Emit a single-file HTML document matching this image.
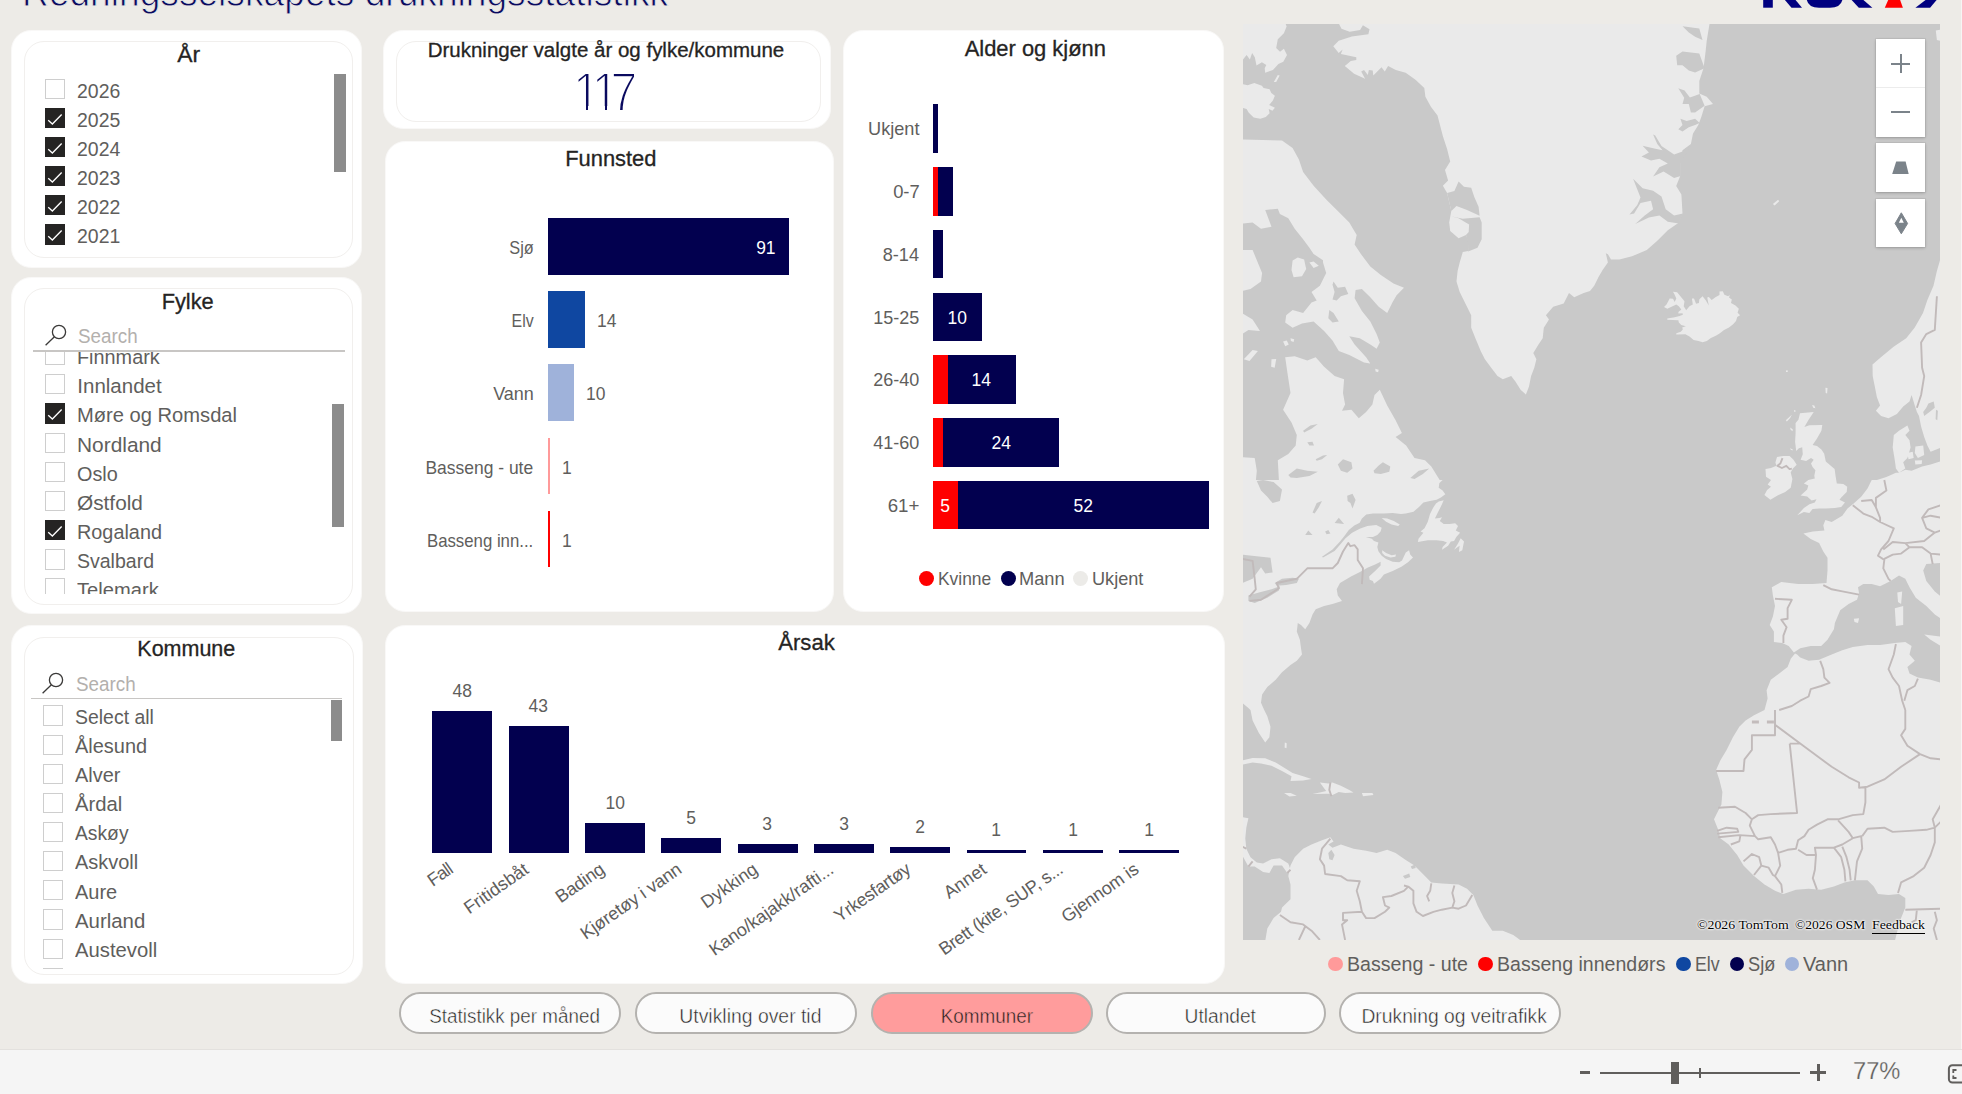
<!DOCTYPE html>
<html lang="no"><head><meta charset="utf-8"><title>Redningsselskapets drukningsstatistikk</title>
<style>
html,body{margin:0;padding:0;background:#edebe7}
body{width:1962px;height:1094px;background:#edebe7;position:relative;overflow:hidden;font-family:"Liberation Sans",sans-serif;}
body div,body span,body svg{position:absolute;}
span{white-space:nowrap;line-height:1em;display:block}
.din{-webkit-text-stroke:0.3px #252423}
</style></head><body>
<span style="left:22.00px;top:-48px;font-size:41px;line-height:80px;color:#0a0a5f;transform:scaleX(0.9057);transform-origin:0 0;-webkit-text-stroke:0.9px #edebe7;">Redningsselskapets drukningsstatistikk</span>
<svg style="left:1750px;top:0" width="200" height="10" viewBox="1750 0 200 10"><g fill="#000080"><rect x="1763.2" y="-2" width="9.6" height="9.7"/><path d="M1783.2 -2 L1793.9 -2 L1802 7.7 L1791.5 7.7 Z"/><path d="M1806.8 -2 L1806.8 0 Q1808.5 7.7 1819 7.7 L1830 7.7 Q1840.5 7.7 1842.4 0 L1842.4 -2 Z"/><path d="M1849.8 -2 L1861.1 -2 L1872.4 7.7 L1858.8 7.7 Z"/><path d="M1928.2 -2 L1938.3 -2 L1930.1 7.7 L1915.4 7.7 Z"/></g><path d="M1889.1 -2 L1899.4 -2 L1902.9 7.7 L1884.8 7.7 Z" fill="#ff0000"/></svg>
<div style="left:11.00px;top:30.00px;width:351.00px;height:237.50px;background:#fff;border-radius:20px;border:1.5px solid #f9f8f7;box-sizing:border-box;"></div>
<div style="left:23.50px;top:41.00px;width:329.50px;height:217.00px;background:#fff;border-radius:20px;border:1px solid #f1efed;box-sizing:border-box;"></div>
<div style="left:11.00px;top:276.50px;width:351.00px;height:337.50px;background:#fff;border-radius:20px;border:1.5px solid #f9f8f7;box-sizing:border-box;"></div>
<div style="left:24.00px;top:288.00px;width:329.00px;height:316.50px;background:#fff;border-radius:20px;border:1px solid #f1efed;box-sizing:border-box;"></div>
<div style="left:11.00px;top:624.50px;width:351.50px;height:359.50px;background:#fff;border-radius:20px;border:1.5px solid #f9f8f7;box-sizing:border-box;"></div>
<div style="left:24.00px;top:636.50px;width:329.50px;height:338.00px;background:#fff;border-radius:20px;border:1px solid #f1efed;box-sizing:border-box;"></div>
<div style="left:383.00px;top:30.00px;width:448.00px;height:99.00px;background:#fff;border-radius:20px;border:1.5px solid #f9f8f7;box-sizing:border-box;"></div>
<div style="left:396.00px;top:40.50px;width:425.00px;height:81.00px;background:#fff;border-radius:20px;border:1px solid #f1efed;box-sizing:border-box;"></div>
<div style="left:385.00px;top:140.50px;width:448.50px;height:471.00px;background:#fff;border-radius:20px;border:1.5px solid #f9f8f7;box-sizing:border-box;"></div>
<div style="left:843.00px;top:30.00px;width:381.00px;height:582.00px;background:#fff;border-radius:20px;border:1.5px solid #f9f8f7;box-sizing:border-box;"></div>
<div style="left:385.00px;top:624.50px;width:839.50px;height:359.00px;background:#fff;border-radius:20px;border:1.5px solid #f9f8f7;box-sizing:border-box;"></div>
<span class="din" style="left:178.45px;top:35px;font-size:21.5px;line-height:40px;color:#252423;transform:scaleX(1.0651);transform-origin:50% 0;">År</span>
<div style="left:44.80px;top:79.10px;width:20.20px;height:20.20px;background:#fff;border:1.5px solid #cecece;box-sizing:border-box;"></div>
<span style="left:77.00px;top:71px;font-size:20.5px;line-height:40px;color:#605e5c;transform:scaleX(0.9495);transform-origin:0 0;">2026</span>
<div style="left:44.80px;top:108.15px;width:20.20px;height:20.20px;background:#252423;"><svg width="20.2" height="20.2" viewBox="0 0 20 20" style="position:absolute;left:0;top:0"><path d="M3.2 12.1 L7.3 15.9 L16.5 6.4" fill="none" stroke="#fff" stroke-width="1.3"/></svg></div>
<span style="left:77.00px;top:100px;font-size:20.5px;line-height:40px;color:#605e5c;transform:scaleX(0.9495);transform-origin:0 0;">2025</span>
<div style="left:44.80px;top:137.20px;width:20.20px;height:20.20px;background:#252423;"><svg width="20.2" height="20.2" viewBox="0 0 20 20" style="position:absolute;left:0;top:0"><path d="M3.2 12.1 L7.3 15.9 L16.5 6.4" fill="none" stroke="#fff" stroke-width="1.3"/></svg></div>
<span style="left:77.00px;top:129px;font-size:20.5px;line-height:40px;color:#605e5c;transform:scaleX(0.9495);transform-origin:0 0;">2024</span>
<div style="left:44.80px;top:166.25px;width:20.20px;height:20.20px;background:#252423;"><svg width="20.2" height="20.2" viewBox="0 0 20 20" style="position:absolute;left:0;top:0"><path d="M3.2 12.1 L7.3 15.9 L16.5 6.4" fill="none" stroke="#fff" stroke-width="1.3"/></svg></div>
<span style="left:77.00px;top:158px;font-size:20.5px;line-height:40px;color:#605e5c;transform:scaleX(0.9495);transform-origin:0 0;">2023</span>
<div style="left:44.80px;top:195.30px;width:20.20px;height:20.20px;background:#252423;"><svg width="20.2" height="20.2" viewBox="0 0 20 20" style="position:absolute;left:0;top:0"><path d="M3.2 12.1 L7.3 15.9 L16.5 6.4" fill="none" stroke="#fff" stroke-width="1.3"/></svg></div>
<span style="left:77.00px;top:187px;font-size:20.5px;line-height:40px;color:#605e5c;transform:scaleX(0.9495);transform-origin:0 0;">2022</span>
<div style="left:44.80px;top:224.35px;width:20.20px;height:20.20px;background:#252423;"><svg width="20.2" height="20.2" viewBox="0 0 20 20" style="position:absolute;left:0;top:0"><path d="M3.2 12.1 L7.3 15.9 L16.5 6.4" fill="none" stroke="#fff" stroke-width="1.3"/></svg></div>
<span style="left:77.00px;top:216px;font-size:20.5px;line-height:40px;color:#605e5c;transform:scaleX(0.9495);transform-origin:0 0;">2021</span>
<div style="left:334.00px;top:74.00px;width:12.00px;height:97.50px;background:#8c8c8c;"></div>
<span class="din" style="left:162.42px;top:282px;font-size:21.5px;line-height:40px;color:#252423;transform:scaleX(1.0143);transform-origin:50% 0;">Fylke</span>
<svg style="left:42.50px;top:322.10px" width="28" height="28" viewBox="0 0 28 28"><circle cx="16" cy="10" r="6.6" fill="none" stroke="#3b3a39" stroke-width="1.3"/><path d="M11.4 14.8 L2.6 23.2" stroke="#3b3a39" stroke-width="1.3" fill="none"/></svg>
<span style="left:77.90px;top:316px;font-size:20.5px;line-height:40px;color:#b3b0ad;transform:scaleX(0.9176);transform-origin:0 0;">Search</span>
<div style="left:33.00px;top:349.90px;width:311.70px;height:1.80px;background:#c8c6c4;"></div>
<div style="left:24px;top:351.6px;width:329px;height:242.2px;overflow:hidden">
<div style="left:20.80px;top:-6.47px;width:20.20px;height:20.20px;background:#fff;border:1.5px solid #cecece;box-sizing:border-box;"></div>
<span style="left:53.30px;top:-15px;font-size:20.5px;line-height:40px;color:#605e5c;transform:scaleX(0.9680);transform-origin:0 0;">Finnmark</span>
<div style="left:20.80px;top:22.70px;width:20.20px;height:20.20px;background:#fff;border:1.5px solid #cecece;box-sizing:border-box;"></div>
<span style="left:53.30px;top:14px;font-size:20.5px;line-height:40px;color:#605e5c;">Innlandet</span>
<div style="left:20.80px;top:51.87px;width:20.20px;height:20.20px;background:#252423;"><svg width="20.2" height="20.2" viewBox="0 0 20 20" style="position:absolute;left:0;top:0"><path d="M3.2 12.1 L7.3 15.9 L16.5 6.4" fill="none" stroke="#fff" stroke-width="1.3"/></svg></div>
<span style="left:53.30px;top:43px;font-size:20.5px;line-height:40px;color:#605e5c;transform:scaleX(0.9823);transform-origin:0 0;">Møre og Romsdal</span>
<div style="left:20.80px;top:81.04px;width:20.20px;height:20.20px;background:#fff;border:1.5px solid #cecece;box-sizing:border-box;"></div>
<span style="left:53.30px;top:73px;font-size:20.5px;line-height:40px;color:#605e5c;transform:scaleX(1.0185);transform-origin:0 0;">Nordland</span>
<div style="left:20.80px;top:110.21px;width:20.20px;height:20.20px;background:#fff;border:1.5px solid #cecece;box-sizing:border-box;"></div>
<span style="left:53.30px;top:102px;font-size:20.5px;line-height:40px;color:#605e5c;transform:scaleX(0.9663);transform-origin:0 0;">Oslo</span>
<div style="left:20.80px;top:139.38px;width:20.20px;height:20.20px;background:#fff;border:1.5px solid #cecece;box-sizing:border-box;"></div>
<span style="left:53.30px;top:131px;font-size:20.5px;line-height:40px;color:#605e5c;transform:scaleX(1.0147);transform-origin:0 0;">Østfold</span>
<div style="left:20.80px;top:168.55px;width:20.20px;height:20.20px;background:#252423;"><svg width="20.2" height="20.2" viewBox="0 0 20 20" style="position:absolute;left:0;top:0"><path d="M3.2 12.1 L7.3 15.9 L16.5 6.4" fill="none" stroke="#fff" stroke-width="1.3"/></svg></div>
<span style="left:53.30px;top:160px;font-size:20.5px;line-height:40px;color:#605e5c;transform:scaleX(0.9680);transform-origin:0 0;">Rogaland</span>
<div style="left:20.80px;top:197.72px;width:20.20px;height:20.20px;background:#fff;border:1.5px solid #cecece;box-sizing:border-box;"></div>
<span style="left:53.30px;top:189px;font-size:20.5px;line-height:40px;color:#605e5c;transform:scaleX(0.9518);transform-origin:0 0;">Svalbard</span>
<div style="left:20.80px;top:226.89px;width:20.20px;height:20.20px;background:#fff;border:1.5px solid #cecece;box-sizing:border-box;"></div>
<span style="left:53.30px;top:218px;font-size:20.5px;line-height:40px;color:#605e5c;transform:scaleX(0.9825);transform-origin:0 0;">Telemark</span>
</div>
<div style="left:332.30px;top:404.20px;width:12.20px;height:123.30px;background:#8c8c8c;"></div>
<span class="din" style="left:137.31px;top:629px;font-size:21.5px;line-height:40px;color:#252423;">Kommune</span>
<svg style="left:40.20px;top:670.40px" width="28" height="28" viewBox="0 0 28 28"><circle cx="16" cy="10" r="6.6" fill="none" stroke="#3b3a39" stroke-width="1.3"/><path d="M11.4 14.8 L2.6 23.2" stroke="#3b3a39" stroke-width="1.3" fill="none"/></svg>
<span style="left:75.80px;top:664px;font-size:20.5px;line-height:40px;color:#b3b0ad;transform:scaleX(0.9176);transform-origin:0 0;">Search</span>
<div style="left:31.00px;top:697.50px;width:311.30px;height:1.80px;background:#c8c6c4;"></div>
<div style="left:24px;top:699.3px;width:329px;height:270px;overflow:hidden">
<div style="left:19.20px;top:6.20px;width:20.20px;height:20.20px;background:#fff;border:1.5px solid #cecece;box-sizing:border-box;"></div>
<span style="left:50.80px;top:-2px;font-size:20.5px;line-height:40px;color:#605e5c;transform:scaleX(0.9487);transform-origin:0 0;">Select all</span>
<div style="left:19.20px;top:35.33px;width:20.20px;height:20.20px;background:#fff;border:1.5px solid #cecece;box-sizing:border-box;"></div>
<span style="left:50.80px;top:27px;font-size:20.5px;line-height:40px;color:#605e5c;transform:scaleX(0.9737);transform-origin:0 0;">Ålesund</span>
<div style="left:19.20px;top:64.46px;width:20.20px;height:20.20px;background:#fff;border:1.5px solid #cecece;box-sizing:border-box;"></div>
<span style="left:50.80px;top:56px;font-size:20.5px;line-height:40px;color:#605e5c;transform:scaleX(0.9722);transform-origin:0 0;">Alver</span>
<div style="left:19.20px;top:93.59px;width:20.20px;height:20.20px;background:#fff;border:1.5px solid #cecece;box-sizing:border-box;"></div>
<span style="left:50.80px;top:85px;font-size:20.5px;line-height:40px;color:#605e5c;transform:scaleX(0.9890);transform-origin:0 0;">Årdal</span>
<div style="left:19.20px;top:122.72px;width:20.20px;height:20.20px;background:#fff;border:1.5px solid #cecece;box-sizing:border-box;"></div>
<span style="left:50.80px;top:114px;font-size:20.5px;line-height:40px;color:#605e5c;transform:scaleX(0.9396);transform-origin:0 0;">Askøy</span>
<div style="left:19.20px;top:151.85px;width:20.20px;height:20.20px;background:#fff;border:1.5px solid #cecece;box-sizing:border-box;"></div>
<span style="left:50.80px;top:143px;font-size:20.5px;line-height:40px;color:#605e5c;transform:scaleX(0.9739);transform-origin:0 0;">Askvoll</span>
<div style="left:19.20px;top:180.98px;width:20.20px;height:20.20px;background:#fff;border:1.5px solid #cecece;box-sizing:border-box;"></div>
<span style="left:50.80px;top:173px;font-size:20.5px;line-height:40px;color:#605e5c;transform:scaleX(0.9756);transform-origin:0 0;">Aure</span>
<div style="left:19.20px;top:210.11px;width:20.20px;height:20.20px;background:#fff;border:1.5px solid #cecece;box-sizing:border-box;"></div>
<span style="left:50.80px;top:202px;font-size:20.5px;line-height:40px;color:#605e5c;transform:scaleX(0.9947);transform-origin:0 0;">Aurland</span>
<div style="left:19.20px;top:239.24px;width:20.20px;height:20.20px;background:#fff;border:1.5px solid #cecece;box-sizing:border-box;"></div>
<span style="left:50.80px;top:231px;font-size:20.5px;line-height:40px;color:#605e5c;transform:scaleX(0.9874);transform-origin:0 0;">Austevoll</span>
<div style="left:19.20px;top:268.37px;width:20.20px;height:20.20px;background:#fff;border:1.5px solid #cecece;box-sizing:border-box;"></div>
</div>
<div style="left:330.50px;top:699.80px;width:11.80px;height:41.00px;background:#8c8c8c;"></div>
<span class="din" style="left:432.33px;top:30px;font-size:20px;line-height:40px;color:#252423;transform:scaleX(1.0249);transform-origin:50% 0;">Drukninger valgte år og fylke/kommune</span>
<span style="left:572.90px;top:52px;font-size:56px;line-height:80px;color:#0a0a5f;letter-spacing:-9.28px;font-kerning:none;-webkit-text-stroke:2px #fff;transform:scaleX(0.86);transform-origin:0 0;">117</span>
<div style="left:575.90px;top:106.40px;width:9.95px;height:5.60px;background:#fff;"></div>
<div style="left:588.45px;top:106.40px;width:9.25px;height:5.60px;background:#fff;"></div>
<div style="left:594.70px;top:106.40px;width:9.95px;height:5.60px;background:#fff;"></div>
<div style="left:607.25px;top:106.40px;width:9.25px;height:5.60px;background:#fff;"></div>
<span class="din" style="left:565.78px;top:139px;font-size:21.5px;line-height:40px;color:#252423;transform:scaleX(1.0174);transform-origin:50% 0;">Funnsted</span>
<div style="left:547.80px;top:218.30px;width:240.97px;height:56.40px;background:#02004f;"></div>
<span style="left:505.65px;top:228px;font-size:18.5px;line-height:40px;color:#605e5c;transform:scaleX(0.8818);transform-origin:100% 0;">Sjø</span>
<span style="left:755.42px;top:228px;font-size:18.5px;line-height:40px;color:#fff;transform:scaleX(0.9431);transform-origin:100% 0;">91</span>
<div style="left:547.80px;top:291.38px;width:37.07px;height:56.40px;background:#0f47a1;"></div>
<span style="left:507.70px;top:301px;font-size:18.5px;line-height:40px;color:#605e5c;transform:scaleX(0.8594);transform-origin:100% 0;">Elv</span>
<span style="left:596.87px;top:301px;font-size:18.5px;line-height:40px;color:#605e5c;transform:scaleX(0.9431);transform-origin:0 0;">14</span>
<div style="left:547.80px;top:364.46px;width:26.48px;height:56.40px;background:#9fb2da;"></div>
<span style="left:491.57px;top:374px;font-size:18.5px;line-height:40px;color:#605e5c;transform:scaleX(0.9728);transform-origin:100% 0;">Vann</span>
<span style="left:586.28px;top:374px;font-size:18.5px;line-height:40px;color:#605e5c;transform:scaleX(0.9431);transform-origin:0 0;">10</span>
<div style="left:547.80px;top:437.54px;width:2.65px;height:56.40px;background:#ff9a9a;"></div>
<span style="left:419.25px;top:448px;font-size:18.5px;line-height:40px;color:#605e5c;transform:scaleX(0.9433);transform-origin:100% 0;">Basseng - ute</span>
<span style="left:562.45px;top:448px;font-size:18.5px;line-height:40px;color:#605e5c;transform:scaleX(0.9431);transform-origin:0 0;">1</span>
<div style="left:547.80px;top:510.62px;width:2.65px;height:56.40px;background:#ff0000;"></div>
<span style="left:416.16px;top:521px;font-size:18.5px;line-height:40px;color:#605e5c;transform:scaleX(0.9065);transform-origin:100% 0;">Basseng inn...</span>
<span style="left:562.45px;top:521px;font-size:18.5px;line-height:40px;color:#605e5c;transform:scaleX(0.9431);transform-origin:0 0;">1</span>
<span class="din" style="left:965.59px;top:29px;font-size:21.5px;line-height:40px;color:#252423;transform:scaleX(1.0186);transform-origin:50% 0;">Alder og kjønn</span>
<div style="left:933.40px;top:104.20px;width:4.84px;height:48.60px;background:#02004f;"></div>
<span style="left:867.06px;top:109px;font-size:18.5px;line-height:40px;color:#605e5c;transform:scaleX(0.9792);transform-origin:100% 0;">Ukjent</span>
<div style="left:933.40px;top:166.97px;width:4.84px;height:48.60px;background:#ff0000;"></div>
<div style="left:938.24px;top:166.97px;width:14.51px;height:48.60px;background:#02004f;"></div>
<span style="left:892.76px;top:172px;font-size:18.5px;line-height:40px;color:#605e5c;transform:scaleX(0.9950);transform-origin:100% 0;">0-7</span>
<div style="left:933.40px;top:229.74px;width:9.67px;height:48.60px;background:#02004f;"></div>
<span style="left:882.47px;top:235px;font-size:18.5px;line-height:40px;color:#605e5c;transform:scaleX(0.9806);transform-origin:100% 0;">8-14</span>
<div style="left:933.40px;top:292.51px;width:48.36px;height:48.60px;background:#02004f;"></div>
<span style="left:872.18px;top:298px;font-size:18.5px;line-height:40px;color:#605e5c;transform:scaleX(0.9724);transform-origin:100% 0;">15-25</span>
<span style="left:947.29px;top:298px;font-size:18.5px;line-height:40px;color:#fff;transform:scaleX(0.9431);transform-origin:50% 0;">10</span>
<div style="left:933.40px;top:355.28px;width:14.51px;height:48.60px;background:#ff0000;"></div>
<div style="left:947.91px;top:355.28px;width:67.70px;height:48.60px;background:#02004f;"></div>
<span style="left:872.18px;top:360px;font-size:18.5px;line-height:40px;color:#605e5c;transform:scaleX(0.9724);transform-origin:100% 0;">26-40</span>
<span style="left:971.47px;top:360px;font-size:18.5px;line-height:40px;color:#fff;transform:scaleX(0.9431);transform-origin:50% 0;">14</span>
<div style="left:933.40px;top:418.05px;width:9.67px;height:48.60px;background:#ff0000;"></div>
<div style="left:943.07px;top:418.05px;width:116.06px;height:48.60px;background:#02004f;"></div>
<span style="left:872.18px;top:423px;font-size:18.5px;line-height:40px;color:#605e5c;transform:scaleX(0.9724);transform-origin:100% 0;">41-60</span>
<span style="left:990.82px;top:423px;font-size:18.5px;line-height:40px;color:#fff;transform:scaleX(0.9431);transform-origin:50% 0;">24</span>
<div style="left:933.40px;top:480.82px;width:24.18px;height:48.60px;background:#ff0000;"></div>
<div style="left:957.58px;top:480.82px;width:251.47px;height:48.60px;background:#02004f;"></div>
<span style="left:888.12px;top:486px;font-size:18.5px;line-height:40px;color:#605e5c;transform:scaleX(1.0108);transform-origin:100% 0;">61+</span>
<span style="left:1073.03px;top:486px;font-size:18.5px;line-height:40px;color:#fff;transform:scaleX(0.9431);transform-origin:50% 0;">52</span>
<span style="left:940.35px;top:486px;font-size:18.5px;line-height:40px;color:#fff;transform:scaleX(0.9431);transform-origin:50% 0;">5</span>
<div style="left:919.20px;top:570.90px;width:15.00px;height:15.00px;background:#ff0000;border-radius:50%;"></div>
<span style="left:938.20px;top:559px;font-size:18.5px;line-height:40px;color:#605e5c;transform:scaleX(0.9402);transform-origin:0 0;">Kvinne</span>
<div style="left:1000.60px;top:570.90px;width:15.00px;height:15.00px;background:#02004f;border-radius:50%;"></div>
<span style="left:1019.20px;top:559px;font-size:18.5px;line-height:40px;color:#605e5c;transform:scaleX(0.9870);transform-origin:0 0;">Mann</span>
<div style="left:1072.80px;top:570.90px;width:15.00px;height:15.00px;background:#ecebe8;border-radius:50%;"></div>
<span style="left:1092.40px;top:559px;font-size:18.5px;line-height:40px;color:#605e5c;transform:scaleX(0.9792);transform-origin:0 0;">Ukjent</span>
<span class="din" style="left:778.82px;top:623px;font-size:21.5px;line-height:40px;color:#252423;transform:scaleX(1.0299);transform-origin:50% 0;">Årsak</span>
<div style="left:432.40px;top:711.39px;width:59.90px;height:141.41px;background:#02004f;"></div>
<span style="left:452.06px;top:671px;font-size:18.5px;line-height:40px;color:#605e5c;transform:scaleX(0.9431);transform-origin:50% 0;">48</span>
<span style="left:153.65px;top:857.29px;width:300px;text-align:right;font-size:18px;color:#605e5c;letter-spacing:-0.782px;transform-origin:100% 15.21px;transform:rotate(-35deg);">Fall</span>
<div style="left:508.71px;top:726.12px;width:59.90px;height:126.68px;background:#02004f;"></div>
<span style="left:528.37px;top:686px;font-size:18.5px;line-height:40px;color:#605e5c;transform:scaleX(0.9431);transform-origin:50% 0;">43</span>
<span style="left:229.96px;top:857.29px;width:300px;text-align:right;font-size:18px;color:#605e5c;letter-spacing:-0.012px;transform-origin:100% 15.21px;transform:rotate(-35deg);">Fritidsbåt</span>
<div style="left:585.02px;top:823.34px;width:59.90px;height:29.46px;background:#02004f;"></div>
<span style="left:604.68px;top:783px;font-size:18.5px;line-height:40px;color:#605e5c;transform:scaleX(0.9431);transform-origin:50% 0;">10</span>
<span style="left:306.27px;top:857.29px;width:300px;text-align:right;font-size:18px;color:#605e5c;letter-spacing:-0.174px;transform-origin:100% 15.21px;transform:rotate(-35deg);">Bading</span>
<div style="left:661.33px;top:838.07px;width:59.90px;height:14.73px;background:#02004f;"></div>
<span style="left:686.14px;top:798px;font-size:18.5px;line-height:40px;color:#605e5c;transform:scaleX(0.9431);transform-origin:50% 0;">5</span>
<span style="left:382.58px;top:857.29px;width:300px;text-align:right;font-size:18px;color:#605e5c;letter-spacing:-0.165px;transform-origin:100% 15.21px;transform:rotate(-35deg);">Kjøretøy i vann</span>
<div style="left:737.64px;top:843.96px;width:59.90px;height:8.84px;background:#02004f;"></div>
<span style="left:762.45px;top:804px;font-size:18.5px;line-height:40px;color:#605e5c;transform:scaleX(0.9431);transform-origin:50% 0;">3</span>
<span style="left:458.89px;top:857.29px;width:300px;text-align:right;font-size:18px;color:#605e5c;letter-spacing:0.051px;transform-origin:100% 15.21px;transform:rotate(-35deg);">Dykking</span>
<div style="left:813.95px;top:843.96px;width:59.90px;height:8.84px;background:#02004f;"></div>
<span style="left:838.76px;top:804px;font-size:18.5px;line-height:40px;color:#605e5c;transform:scaleX(0.9431);transform-origin:50% 0;">3</span>
<span style="left:535.20px;top:857.29px;width:300px;text-align:right;font-size:18px;color:#605e5c;letter-spacing:-0.054px;transform-origin:100% 15.21px;transform:rotate(-35deg);">Kano/kajakk/rafti...</span>
<div style="left:890.26px;top:846.91px;width:59.90px;height:5.89px;background:#02004f;"></div>
<span style="left:915.07px;top:807px;font-size:18.5px;line-height:40px;color:#605e5c;transform:scaleX(0.9431);transform-origin:50% 0;">2</span>
<span style="left:611.51px;top:857.29px;width:300px;text-align:right;font-size:18px;color:#605e5c;letter-spacing:-0.341px;transform-origin:100% 15.21px;transform:rotate(-35deg);">Yrkesfartøy</span>
<div style="left:966.57px;top:849.85px;width:59.90px;height:2.95px;background:#02004f;"></div>
<span style="left:991.38px;top:810px;font-size:18.5px;line-height:40px;color:#605e5c;transform:scaleX(0.9431);transform-origin:50% 0;">1</span>
<span style="left:687.82px;top:857.29px;width:300px;text-align:right;font-size:18px;color:#605e5c;letter-spacing:0.110px;transform-origin:100% 15.21px;transform:rotate(-35deg);">Annet</span>
<div style="left:1042.88px;top:849.85px;width:59.90px;height:2.95px;background:#02004f;"></div>
<span style="left:1067.69px;top:810px;font-size:18.5px;line-height:40px;color:#605e5c;transform:scaleX(0.9431);transform-origin:50% 0;">1</span>
<span style="left:764.13px;top:857.29px;width:300px;text-align:right;font-size:18px;color:#605e5c;letter-spacing:-0.445px;transform-origin:100% 15.21px;transform:rotate(-35deg);">Brett (kite, SUP, s...</span>
<div style="left:1119.19px;top:849.85px;width:59.90px;height:2.95px;background:#02004f;"></div>
<span style="left:1144.00px;top:810px;font-size:18.5px;line-height:40px;color:#605e5c;transform:scaleX(0.9431);transform-origin:50% 0;">1</span>
<span style="left:840.44px;top:857.29px;width:300px;text-align:right;font-size:18px;color:#605e5c;letter-spacing:-0.181px;transform-origin:100% 15.21px;transform:rotate(-35deg);">Gjennom is</span>
<div style="left:399.00px;top:992.40px;width:222.00px;height:42.00px;background:#fbfbfb;border:2px solid #b4b2af;border-radius:21px;box-sizing:border-box;"></div>
<div style="left:635.30px;top:992.40px;width:221.90px;height:42.00px;background:#fbfbfb;border:2px solid #b4b2af;border-radius:21px;box-sizing:border-box;"></div>
<div style="left:871.40px;top:992.40px;width:221.40px;height:42.00px;background:#ff9c9c;border:2px solid #b4b2af;border-radius:21px;box-sizing:border-box;"></div>
<div style="left:1105.50px;top:992.40px;width:220.50px;height:42.00px;background:#fbfbfb;border:2px solid #b4b2af;border-radius:21px;box-sizing:border-box;"></div>
<div style="left:1339.30px;top:992.40px;width:221.50px;height:42.00px;background:#fbfbfb;border:2px solid #b4b2af;border-radius:21px;box-sizing:border-box;"></div>
<span style="left:423.70px;top:996px;font-size:20px;line-height:40px;color:#252423;transform:scaleX(0.9415);transform-origin:50% 0;-webkit-text-stroke:0.45px #fbfbfb;">Statistikk per måned</span>
<span style="left:677.34px;top:996px;font-size:20px;line-height:40px;color:#252423;transform:scaleX(0.9692);transform-origin:50% 0;-webkit-text-stroke:0.45px #fbfbfb;">Utvikling over tid</span>
<span style="left:937.79px;top:996px;font-size:20px;line-height:40px;color:#252423;transform:scaleX(0.9457);transform-origin:50% 0;-webkit-text-stroke:0.45px #ff9c9c;">Kommuner</span>
<span style="left:1182.95px;top:996px;font-size:20px;line-height:40px;color:#252423;transform:scaleX(0.9585);transform-origin:50% 0;-webkit-text-stroke:0.45px #fbfbfb;">Utlandet</span>
<span style="left:1358.35px;top:996px;font-size:20px;line-height:40px;color:#252423;transform:scaleX(0.9646);transform-origin:50% 0;-webkit-text-stroke:0.45px #fbfbfb;">Drukning og veitrafikk</span>
<div style="left:0.00px;top:1048.50px;width:1962.00px;height:45.50px;background:#f5f5f5;border-top:1.2px solid #e3e1de;box-sizing:border-box;"></div>
<div style="left:1960.60px;top:0.00px;width:1.40px;height:1049.00px;background:#f6f5f4;"></div>
<div style="left:1580.10px;top:1071.30px;width:10.20px;height:2.30px;background:#605e5c;"></div>
<div style="left:1600.00px;top:1072.00px;width:199.80px;height:1.50px;background:#605e5c;"></div>
<div style="left:1671.10px;top:1062.10px;width:7.80px;height:21.50px;background:#605e5c;"></div>
<div style="left:1699.30px;top:1068.30px;width:1.50px;height:9.60px;background:#605e5c;"></div>
<div style="left:1810.00px;top:1071.00px;width:16.40px;height:3.00px;background:#605e5c;"></div>
<div style="left:1816.70px;top:1064.20px;width:3.00px;height:16.40px;background:#605e5c;"></div>
<span style="left:1852.80px;top:1051px;font-size:24.5px;line-height:40px;color:#605e5c;transform:scaleX(0.9666);transform-origin:0 0;-webkit-text-stroke:0.25px #f5f5f5;">77%</span>
<svg style="left:1946px;top:1062px" width="16" height="24" viewBox="0 0 16 24"><rect x="2.9" y="3.2" width="20" height="17.4" rx="3.5" fill="none" stroke="#605e5c" stroke-width="2"/><path d="M10.5 8 H7.3 V11" fill="none" stroke="#605e5c" stroke-width="1.8"/><path d="M7.3 13.5 V16 H10.5" fill="none" stroke="#605e5c" stroke-width="1.8"/></svg>
<svg style="left:1243px;top:24px" width="697" height="916" viewBox="1243 24 697 916">
<rect x="1243" y="24" width="697" height="916" fill="#c9c9c9"/>
<path d="M1242.2,23.3 1285.5,23.3 1286.6,26.6 1283.9,33.2 1277.8,39.2 1276.2,48.0 1280.0,51.8 1283.9,48.7 1287.0,55.1 1283.3,61.7 1278.4,63.9 1272.9,69.9 1265.2,72.7 1264.7,68.3 1266.3,65.0 1261.9,62.2 1256.5,65.5 1254.8,57.3 1252.1,52.9 1249.9,59.5 1246.6,55.1 1242.2,60.6Z M1242.2,84.2 1247.7,85.3 1254.3,83.1 1261.9,85.8 1263.6,88.0 1269.6,89.3 1271.3,93.0 1274.9,95.7 1272.9,100.6 1269.1,105.0 1272.9,106.7 1274.9,107.8 1272.4,110.8 1268.7,108.9 1269.6,113.3 1265.8,117.1 1260.3,118.7 1253.7,117.6 1248.8,112.7 1246.6,108.9 1242.2,107.8Z M1277.8,74.9 1279.7,75.4 1276.2,82.0 1273.8,82.0Z M1242.1,139.5 1282.0,140.5 1292.6,147.9 1298.9,159.4 1303.1,172.0 1313.6,185.7 1326.2,199.4 1338.8,212.0 1349.3,222.5 1356.7,235.1 1354.6,244.6 1360.9,254.0 1370.3,266.6 1380.8,275.0 1393.5,283.5 1404.0,287.7 1396.6,295.2 1392.4,302.6 1387.2,313.1 1378.7,306.8 1370.3,297.3 1361.9,288.9 1355.6,289.9 1354.6,298.3 1361.9,311.0 1370.3,321.5 1376.6,334.1 1379.8,342.5 1376.6,348.8 1370.3,344.6 1359.8,338.3 1349.3,336.2 1354.6,344.6 1366.1,357.2 1370.3,363.5 1364.0,362.5 1349.3,355.1 1338.8,350.9 1332.5,340.4 1324.1,330.9 1313.6,321.5 1302.0,323.6 1292.6,327.8 1285.2,322.5 1286.2,315.2 1292.6,309.9 1303.1,313.1 1311.5,302.6 1316.7,300.5 1311.5,292.0 1319.9,285.7 1326.2,273.1 1323.0,262.6 1323.0,260.3 1313.6,254.0 1309.4,247.7 1303.1,239.3 1294.7,228.8 1288.3,218.3 1279.9,214.1 1277.8,208.8 1265.2,209.9 1271.5,226.7 1261.0,228.8 1252.6,222.5 1242.1,223.5Z M1242.1,250.0 1252.6,250.0 1262.1,273.1 1261.0,281.5 1250.5,288.9 1242.1,291.0Z M1292.6,260.5 1297.8,257.4 1304.1,259.5 1306.2,268.9 1302.0,276.3 1293.6,277.3 1291.5,270.0Z M1309.4,262.6 1313.6,261.6 1318.8,265.8 1313.6,267.9Z M1242.1,313.1 1252.6,319.4 1260.0,330.9 1248.4,329.9 1242.1,334.1Z M1252.6,349.9 1257.9,350.9 1249.5,361.0 1243.8,359.3Z M1271.5,359.3 1276.2,358.9 1274.7,367.7 1271.1,366.7Z M1283.1,341.4 1286.7,340.4 1288.8,344.6 1285.2,346.3Z M1290.5,338.3 1294.2,339.3 1293.6,341.9 1290.9,341.0Z M1375.2,368.8 1378.7,369.8 1378.1,372.3 1375.6,371.5Z M1338.7,23.3 1341.5,28.8 1349.7,31.8 1360.1,29.9 1362.9,25.3 1369.5,29.3 1368.4,34.3 1351.9,36.5 1338.7,40.8 1333.3,46.3 1338.7,52.9 1342.6,49.6 1340.9,54.0 1356.3,57.3 1356.3,60.0 1350.8,61.1 1344.8,66.1 1354.1,73.8 1365.1,78.7 1361.2,71.6 1364.0,69.9 1367.8,74.9 1368.9,69.9 1372.7,70.5 1373.3,75.4 1381.5,67.2 1384.8,71.6 1388.1,66.1 1395.8,69.9 1405.7,72.7 1415.5,79.8 1424.3,88.0 1425.4,96.8 1430.9,106.7 1437.5,115.4 1442.9,136.3 1447.1,148.9 1450.2,161.5 1445.0,169.9 1448.1,180.5 1442.9,185.7 1447.1,193.1 1451.3,210.9 1449.2,222.5 1450.2,230.9 1458.6,238.3 1466.0,235.1 1469.1,243.5 1468.1,250.9 1462.8,251.9 1459.7,262.6 1457.6,271.0 1456.5,281.5 1459.7,292.0 1466.0,304.7 1471.2,315.2 1471.2,327.8 1475.4,338.3 1480.7,350.9 1484.9,359.3 1491.2,367.7 1497.5,376.1 1502.8,379.3 1511.2,376.1 1515.4,381.4 1520.6,389.8 1525.9,394.6 1529.0,386.6 1531.1,376.1 1534.3,367.7 1536.4,359.3 1533.3,353.0 1538.5,344.6 1542.7,338.3 1543.8,327.8 1549.0,319.4 1545.9,315.2 1553.2,306.8 1563.7,303.6 1569.0,293.1 1574.2,297.3 1583.7,293.1 1590.0,291.0 1594.2,285.7 1598.4,277.3 1602.6,270.0 1607.9,262.6 1605.8,253.2 1607.9,254.2 1611.0,259.5 1619.4,259.5 1632.0,256.3 1646.8,250.0 1657.3,240.7 1667.8,230.2 1678.3,222.9 1682.5,213.4 1681.4,194.5 1676.2,186.1 1680.4,175.6 1680.4,162.9 1682.5,150.3 1690.9,144.0 1693.0,133.5 1698.3,125.1 1701.4,116.7 1704.6,106.2 1713.0,104.1 1706.7,96.7 1699.3,93.6 1699.3,81.0 1703.5,68.3 1705.6,51.5 1706.7,41.0 1709.8,22.1Z M1935.8,30.5 1941.1,29.5 1941.1,41.0 1936.9,40.0Z M1772.9,203.9 1778.1,199.7 1779.2,201.2 1774.6,205.4Z M1673.0,291.8 1677.1,292.2 1680.4,296.3 1684.5,301.3 1683.7,306.2 1686.2,310.3 1689.5,306.2 1692.8,304.5 1691.9,298.4 1694.0,298.4 1696.1,303.7 1698.9,302.9 1699.4,299.2 1702.6,296.3 1705.9,300.4 1708.8,305.4 1707.2,297.6 1708.8,297.1 1711.7,300.0 1715.8,297.1 1719.5,295.1 1719.5,291.4 1722.8,291.2 1724.4,294.7 1728.1,296.3 1729.8,295.1 1729.0,297.6 1731.8,299.6 1731.0,302.9 1735.5,305.4 1738.8,308.7 1737.6,312.8 1740.1,315.2 1737.2,316.9 1736.0,321.0 1733.1,324.3 1729.0,327.6 1724.0,330.0 1719.9,333.3 1715.8,335.8 1710.9,337.9 1706.8,341.1 1702.6,342.2 1698.5,341.1 1693.6,339.9 1689.5,336.6 1685.4,334.2 1676.3,334.6 1676.3,333.3 1680.8,331.7 1682.9,329.2 1682.1,327.6 1685.8,326.3 1681.3,325.1 1678.8,322.6 1678.4,320.2 1667.3,319.8 1667.3,318.5 1674.7,317.3 1679.6,316.1 1682.9,314.8 1682.5,313.2 1678.4,313.6 1678.4,311.9 1681.3,309.5 1678.8,306.2 1676.3,304.5 1667.3,308.7 1664.0,307.0 1666.5,304.5 1669.7,298.4 1673.0,298.8 1674.7,302.1 1676.3,298.4 1674.7,294.7Z M1941.1,256.3 1936.9,271.0 1933.5,285.7 1927.2,300.5 1923.0,313.1 1914.6,327.8 1906.2,338.3 1893.6,346.7 1880.9,357.2 1872.5,364.6 1872.7,376.1 1874.8,386.6 1876.9,397.2 1880.1,405.6 1875.9,410.8 1881.1,416.1 1888.5,418.2 1896.9,414.0 1903.2,406.6 1909.5,401.4 1911.6,395.0 1914.8,405.6 1916.9,411.9 1919.0,416.1 1921.1,426.6 1924.2,437.1 1927.4,445.5 1930.6,451.8 1941.1,447.6Z M1893.8,435.0 1899.0,430.8 1907.4,425.5 1909.5,430.8 1905.3,435.0 1909.5,440.2 1910.6,447.6 1907.4,458.1 1903.2,462.3 1905.3,468.6 1899.0,472.8 1895.9,468.6 1894.8,460.2 1892.7,447.6Z M1907.4,452.9 1912.7,451.8 1913.7,458.1 1908.5,459.2Z M1915.4,446.6 1923.2,445.5 1924.2,455.0 1917.9,458.1 1914.8,452.9Z M1914.8,460.6 1922.1,460.2 1921.7,464.0 1915.4,464.4Z M1825.4,387.7 1827.5,388.1 1827.1,393.4 1825.7,392.9Z M1785.9,370.5 1787.6,370.2 1787.8,371.9 1786.1,372.1Z M1800.0,413.2 1813.7,412.1 1808.3,420.3 1804.4,426.9 1809.4,425.2 1822.3,425.0 1821.4,430.7 1817.0,438.4 1812.6,445.0 1817.0,446.1 1821.4,449.4 1824.2,453.7 1825.8,461.4 1830.2,465.3 1834.6,469.1 1835.7,476.8 1836.8,483.4 1843.4,483.9 1847.2,486.7 1846.7,492.1 1841.2,497.6 1839.5,499.8 1845.0,502.6 1841.2,506.9 1834.6,508.0 1825.8,508.6 1819.2,508.6 1812.6,509.1 1809.4,513.0 1803.9,511.9 1797.3,515.2 1803.9,508.0 1809.4,504.2 1814.8,502.6 1816.5,499.3 1811.6,500.4 1807.2,496.5 1800.6,495.4 1807.2,489.4 1808.3,485.6 1803.9,483.4 1808.3,480.1 1814.8,478.4 1814.3,475.7 1815.4,470.2 1812.6,466.9 1811.0,463.6 1813.7,459.8 1811.0,458.1 1806.1,460.9 1800.6,459.8 1802.8,454.3 1802.2,447.2 1798.9,448.3 1796.2,451.0 1795.1,441.7 1795.6,432.9 1795.6,423.0 1798.4,419.7Z M1777.0,457.0 1783.6,455.9 1789.6,455.9 1793.5,459.8 1796.7,464.7 1792.9,468.6 1790.7,472.4 1792.4,479.0 1790.7,487.7 1785.2,492.1 1777.5,495.4 1770.4,499.8 1764.4,494.9 1767.1,489.9 1771.0,486.7 1767.7,484.5 1771.0,480.1 1766.0,476.8 1765.5,469.1 1771.0,468.0 1776.5,465.8 1775.4,462.5Z M1785.8,420.3 1791.8,414.8 1790.2,418.1 1786.9,421.4Z M1790.2,427.4 1792.9,429.6 1792.4,431.3 1790.5,429.4Z M1790.2,448.3 1792.9,449.4 1792.4,450.5 1790.5,449.6Z M1812.1,404.9 1814.3,405.5 1815.4,408.2 1813.2,407.7Z M1794.0,410.1 1795.6,410.4 1795.3,412.1 1794.2,411.8Z M1899.0,472.8 1895.9,472.8 1886.4,477.0 1876.9,480.0 1871.7,480.0 1867.5,488.4 1861.2,496.8 1852.8,504.2 1847.5,508.4 1842.3,515.7 1831.7,522.0 1825.4,519.9 1823.3,525.2 1824.4,530.5 1812.8,531.5 1803.4,533.6 1810.7,538.9 1819.1,543.1 1823.3,551.5 1827.5,557.8 1827.5,570.4 1826.5,583.0 1812.8,584.1 1798.1,584.1 1781.3,582.0 1771.8,587.2 1772.9,595.6 1775.0,606.1 1772.9,616.6 1769.7,625.0 1773.9,631.4 1773.9,641.9 1782.3,642.9 1788.7,646.1 1793.9,652.4 1800.2,648.2 1810.7,646.1 1821.2,646.1 1827.5,639.8 1833.9,629.3 1834.9,622.9 1840.2,610.3 1848.6,604.0 1857.0,599.8 1859.1,593.5 1858.0,587.2 1863.3,584.1 1871.7,584.1 1880.1,586.2 1890.6,580.9 1899.0,575.6 1905.3,578.8 1909.5,587.2 1915.8,597.7 1926.3,606.1 1934.8,614.5 1941.1,618.7 1941.1,596.7 1934.8,591.4 1926.3,580.9 1923.2,570.4 1926.3,564.1 1941.1,563.0 1941.1,461.3 1930.6,464.4 1922.1,466.5 1911.6,470.7 1905.3,469.7Z M1924.2,634.5 1941.1,636.6 1941.1,646.1 1930.6,639.8Z M1897.3,592.5 1902.2,591.4 1901.1,604.0 1898.0,601.9Z M1894.8,608.2 1903.2,606.1 1903.2,625.0 1895.9,626.1Z M1853.8,618.7 1859.1,618.3 1858.0,622.9 1854.5,621.9Z M1795.0,653.4 1797.1,654.5 1800.2,657.6 1808.6,660.8 1819.1,659.7 1831.7,654.5 1842.3,650.3 1852.8,647.1 1867.5,645.0 1880.1,645.0 1894.8,642.9 1905.3,641.9 1911.6,646.1 1909.5,654.5 1914.8,660.8 1907.4,667.1 1909.5,673.4 1917.9,677.6 1930.6,679.7 1941.1,682.9 1941.1,941.2 1894.8,941.2 1898.0,928.6 1901.1,918.1 1905.3,907.6 1905.3,898.1 1899.0,893.9 1888.5,895.0 1878.0,893.9 1873.8,886.6 1867.5,880.3 1854.9,880.3 1844.4,882.4 1833.9,886.6 1821.2,889.7 1808.6,888.7 1796.0,889.7 1783.4,893.9 1775.0,890.8 1764.5,884.5 1754.0,876.1 1743.5,865.6 1737.2,855.0 1728.7,844.5 1720.3,838.2 1718.2,829.8 1714.0,819.3 1716.1,815.1 1721.4,804.6 1722.4,792.0 1719.3,779.4 1716.1,769.9 1720.3,760.5 1726.6,749.9 1732.9,737.3 1739.3,726.8 1745.6,720.5 1754.0,715.3 1764.5,710.0 1767.6,698.6 1766.6,690.2 1770.8,679.7 1779.2,673.4 1787.6,667.1 1790.8,658.7Z M1285.2,357.2 1294.7,356.2 1307.3,360.4 1315.7,357.2 1324.1,366.7 1334.6,376.1 1344.1,379.3 1343.0,392.9 1345.1,404.5 1342.0,410.8 1351.4,409.8 1358.8,418.2 1366.1,411.9 1372.4,404.5 1374.5,395.0 1379.8,389.8 1387.2,405.6 1395.6,420.3 1401.9,432.9 1395.6,437.1 1406.1,445.5 1414.5,458.1 1425.0,460.2 1431.3,466.5 1439.7,480.0 1442.6,480.0 1439.3,483.3 1438.7,487.7 1442.6,490.4 1445.3,494.3 1440.9,497.6 1436.6,499.7 1431.1,500.8 1423.4,502.5 1419.0,506.9 1413.5,511.8 1405.8,513.5 1400.9,514.0 1392.7,512.9 1383.9,513.5 1372.9,513.5 1366.3,514.6 1361.9,518.4 1359.7,522.8 1354.3,525.5 1348.8,529.9 1344.4,536.0 1340.0,541.4 1332.5,549.4 1322.0,556.7 1323.0,557.4 1334.6,551.1 1340.0,544.7 1345.5,538.2 1352.1,532.7 1359.7,528.8 1367.4,526.1 1376.2,525.0 1381.7,527.7 1380.6,531.6 1377.3,534.9 1372.9,537.1 1365.8,537.1 1371.8,538.7 1374.0,540.9 1378.4,542.5 1377.3,546.9 1378.4,551.3 1381.7,555.7 1386.1,559.0 1392.7,561.7 1399.2,562.3 1402.0,560.6 1405.8,552.4 1409.1,550.2 1410.2,554.6 1413.0,557.4 1408.0,562.3 1401.4,566.7 1392.7,571.1 1383.9,574.4 1380.6,578.7 1374.0,583.7 1372.9,580.9 1369.6,579.8 1369.1,576.6 1375.1,571.1 1380.6,565.6 1380.6,561.7 1375.1,564.5 1367.4,567.8 1361.9,571.1 1351.0,576.6 1340.0,583.1 1336.7,589.3 1337.8,595.6 1342.0,600.9 1332.5,604.0 1324.1,606.1 1315.7,609.3 1312.5,614.5 1309.4,622.9 1305.2,629.3 1301.0,625.0 1297.8,622.9 1296.8,631.4 1299.9,639.8 1301.0,648.2 1302.0,654.5 1296.8,660.8 1290.5,665.0 1282.0,672.3 1275.7,679.7 1267.3,687.1 1262.1,694.4 1261.0,702.8 1264.2,710.0 1267.3,716.3 1270.5,726.8 1269.4,737.3 1265.2,742.6 1258.9,733.1 1252.6,720.5 1250.5,710.0 1248.4,708.1 1242.1,702.8 1242.1,480.0 1278.9,480.0 1277.8,460.2 1288.3,453.9 1295.7,445.5 1296.8,435.0 1291.5,422.4 1283.1,409.8 1290.5,392.9 1287.3,371.9Z M1242.1,457.1 1254.7,458.1 1256.8,470.7 1255.8,481.2 1242.1,481.2Z M1438.7,501.4 1443.7,500.3 1441.5,505.2 1438.2,511.8 1434.9,518.4 1439.3,517.9 1442.0,517.3 1439.8,521.1 1443.7,523.9 1449.7,523.9 1455.2,523.3 1458.0,526.1 1455.8,530.5 1460.1,532.7 1456.3,537.1 1454.1,540.9 1450.8,541.4 1448.1,545.8 1442.0,549.7 1442.6,546.9 1447.0,542.5 1443.1,540.9 1436.6,540.3 1427.8,540.3 1417.9,542.0 1418.5,538.7 1423.4,532.7 1420.6,531.6 1424.5,528.3 1427.8,521.7 1430.0,514.0 1433.3,507.4 1436.0,503.6Z M1454.1,549.7 1458.0,543.6 1460.7,538.2 1464.0,541.4 1462.3,550.2 1459.0,551.9 1459.6,545.8 1456.3,548.0Z M1381.7,517.9 1387.2,518.4 1393.8,521.1 1399.8,524.4 1398.2,526.1 1391.6,524.4 1386.1,521.7Z M1382.2,550.2 1386.1,553.0 1391.6,555.2 1396.0,554.6 1395.4,556.8 1390.5,557.4 1385.0,555.7 1382.2,553.0Z M1242.1,760.5 1252.6,757.9 1265.2,758.3 1275.7,762.6 1286.2,768.9 1292.6,773.1 1303.1,776.2 1311.5,779.0 1303.1,780.4 1290.5,781.1 1291.5,776.2 1282.0,771.0 1271.5,765.7 1261.0,763.6 1252.6,762.6 1242.1,764.7Z M1284.1,793.0 1290.5,793.0 1296.8,795.8 1289.4,796.6Z M1319.9,782.5 1328.3,783.6 1332.5,782.5 1340.9,785.7 1349.3,789.9 1353.5,792.4 1345.1,793.0 1338.8,792.0 1332.5,795.1 1328.3,793.7 1312.5,794.1 1319.9,792.4 1326.2,790.9 1323.0,786.7Z M1361.9,793.0 1372.4,793.0 1373.5,795.1 1363.0,796.2Z M1284.8,742.6 1286.7,743.2 1286.5,748.3 1284.6,747.4Z M1242.1,817.2 1248.4,818.3 1246.3,827.7 1245.3,838.2 1246.3,848.7 1250.5,857.2 1256.8,862.4 1263.1,863.5 1271.5,859.3 1279.9,858.2 1288.3,863.5 1290.5,869.8 1287.3,872.9 1282.0,865.6 1273.6,865.6 1269.4,872.9 1263.1,871.9 1254.7,866.6 1248.4,866.6 1242.1,855.0Z M1290.5,865.6 1294.7,857.2 1303.1,848.7 1311.5,844.5 1322.0,840.3 1330.4,837.2 1333.5,841.4 1328.3,844.5 1332.5,847.7 1340.9,844.5 1353.5,848.7 1366.1,850.8 1376.6,852.9 1387.2,849.8 1395.6,852.9 1406.1,860.3 1414.5,865.6 1422.9,874.0 1431.3,882.4 1441.8,883.4 1458.6,884.5 1467.0,888.7 1473.3,895.0 1477.5,905.5 1483.9,918.1 1492.3,930.7 1502.8,930.7 1513.3,934.9 1521.7,941.2 1265.2,941.2 1267.3,928.6 1273.6,918.1 1281.0,911.8 1282.0,907.6 1290.5,899.2 1290.5,884.5 1288.3,876.1Z" fill="#eaeaea"/>
<path d="M1333.5,281.5 1337.8,287.8 1345.1,286.8 1348.3,294.1 1340.9,296.2 1336.7,300.5 1332.5,299.4 1334.6,292.0 1332.5,284.7Z M1329.3,309.9 1333.5,313.1 1338.8,321.5 1332.5,322.5 1328.3,318.3Z M1447.1,193.1 1454.4,191.0 1458.6,181.5 1463.9,186.8 1471.2,187.8 1474.4,197.3 1478.6,206.7 1479.6,215.8 1467.0,209.9 1456.5,206.1 1451.3,210.9Z M1451.9,216.6 1462.8,218.7 1479.6,217.2 1481.7,222.5 1481.7,239.3 1477.5,247.7 1468.1,251.5 1468.1,243.5 1466.0,235.1 1468.7,232.0 1469.1,224.6 1458.6,218.3Z M1682.5,26.3 1699.3,28.4 1702.5,40.0 1695.1,36.8 1688.8,32.6Z M1676.2,55.7 1682.5,51.5 1699.3,53.6 1704.6,68.3 1695.1,72.6 1688.8,70.5 1682.5,65.2 1677.2,65.2Z M1678.3,88.3 1684.6,90.4 1689.9,97.4 1699.7,94.0 1704.6,105.8 1695.1,112.5 1690.9,112.5 1688.8,104.1 1682.5,104.1 1684.2,97.8Z M1680.4,118.8 1686.7,120.9 1695.1,118.8 1699.7,123.0 1695.1,125.1 1688.8,127.2 1682.5,131.4 1678.3,129.3 1682.5,125.1Z M1692.0,144.0 1682.5,151.4 1674.1,154.5 1667.8,150.3 1661.5,146.1 1655.2,135.6 1653.1,134.6 1657.3,144.0 1662.5,150.3 1653.1,148.2 1642.6,145.7 1648.9,152.4 1641.5,156.6 1651.0,160.4 1659.4,158.7 1667.8,163.4 1659.4,167.2 1653.1,176.6 1663.6,171.4 1674.1,178.1 1680.8,176.0 1680.8,162.9Z M1633.1,178.7 1642.6,188.2 1653.1,190.7 1661.5,196.6 1665.7,209.2 1674.1,215.5 1682.9,213.4 1678.7,223.5 1667.8,221.8 1659.4,215.5 1648.9,217.6 1635.2,223.9 1644.7,215.5 1653.1,209.2 1651.0,200.8 1640.5,202.9 1634.1,213.4 1629.5,214.5 1637.3,205.0 1640.5,197.6Z M1928.4,403.5 1933.7,401.4 1934.8,407.7 1929.5,411.9 1924.2,416.1 1923.2,411.9 1926.3,407.7Z M1936.0,409.8 1937.9,410.8 1937.3,420.3 1935.6,419.2Z M1242.1,554.6 1270.5,557.8 1272.6,572.5 1265.2,573.5 1261.0,567.2 1252.6,578.8 1242.1,583.0Z M1248.4,595.6 1258.9,592.5 1271.5,589.3 1279.9,586.2 1278.9,590.4 1267.3,597.7 1254.7,603.0 1248.4,600.9Z M1274.7,583.0 1282.0,578.8 1292.6,577.8 1298.9,578.8 1296.8,583.0 1286.2,585.1 1276.8,585.7Z M1256.8,481.1 1263.1,480.0 1273.6,482.1 1282.0,489.5 1279.9,501.0 1272.6,503.1 1267.3,496.8 1261.0,490.5Z M1312.5,512.6 1316.7,503.1 1322.0,501.0 1318.8,507.3 1314.6,513.6Z M1347.2,495.8 1352.5,493.7 1355.6,500.0 1352.5,508.4 1350.4,503.1 1347.6,501.0Z M1334.6,523.1 1338.8,517.8 1344.1,524.1Z M1305.2,535.1 1308.3,530.5 1312.5,535.1Z M1325.1,531.5 1328.3,530.0 1330.4,533.6 1326.6,534.2Z M1303.1,430.8 1310.4,425.5 1317.8,424.1 1311.5,428.7 1304.1,432.5Z M1307.3,442.3 1312.5,441.7 1314.0,445.5 1309.4,445.5Z M1315.7,459.2 1323.0,455.6 1327.2,455.0 1322.0,459.2 1316.7,460.8Z M1337.8,464.4 1343.0,459.2 1351.4,462.3 1352.5,468.6 1347.2,472.8 1340.9,470.7Z M1373.5,470.7 1378.7,465.5 1382.9,462.3 1390.3,466.5 1389.3,471.8 1380.8,473.9 1374.5,473.2Z M1288.3,474.9 1296.8,468.6 1307.3,470.7 1317.8,471.8 1309.4,476.0 1296.8,478.1 1290.5,477.5Z M1410.3,478.1 1418.7,470.7 1429.2,468.6 1422.9,473.9 1414.5,479.1Z M1328.3,852.9 1331.4,849.8 1334.6,855.0 1332.5,860.3 1329.3,859.3Z M1402.9,876.1 1409.2,873.5 1410.3,877.1 1405.0,878.8Z M1410.7,866.6 1414.9,864.5 1415.7,868.1 1412.0,869.1Z" fill="#c9c9c9"/>
<path d="M1936.9,296.2 1934.8,329.9 1926.3,334.1 1921.1,342.5 1922.1,367.7 1924.2,376.1 1921.1,395.0 1916.9,407.7 M1782.5,458.1 1780.3,463.6 1777.5,465.8 1781.9,468.0 1786.3,465.8 1789.6,469.1 1791.8,468.6 M1249.5,600.9 1261.0,599.8 1278.9,588.3 1276.8,583.0 1296.8,578.8 1307.3,568.3 1332.5,568.3 1337.8,563.0 1343.0,551.5 1348.3,543.1 1350.4,546.2 1354.6,545.2 1357.7,549.4 1357.7,559.9 1363.0,568.3 1361.9,584.1 M1242.1,558.8 1252.6,560.9 1254.7,578.8 1255.8,589.3 1249.5,596.7 M1330.4,782.5 1329.3,789.9 1331.4,796.2 M1330.4,838.7 1322.0,848.7 1319.9,859.3 1324.1,865.6 1325.1,874.0 1340.9,876.1 1347.2,880.3 1359.8,881.3 1356.7,890.8 1359.8,901.3 1361.9,911.8 1366.1,918.1 1374.5,918.1 1385.0,911.8 1389.3,907.6 1385.0,905.5 1382.9,897.1 1391.4,896.0 1404.0,890.8 1408.2,886.6 1404.0,885.5 M1408.2,886.6 1413.4,890.8 1413.4,903.4 1416.6,911.8 1422.9,916.0 1433.4,911.8 1441.8,909.7 1452.3,907.6 1458.6,908.7 1466.0,905.5 1472.3,895.0 M1431.3,883.4 1430.2,890.8 1427.1,896.0 1429.2,901.3 M1454.4,885.5 1452.3,892.9 1454.4,901.3 1452.3,907.6 M1279.9,915.0 1290.5,922.3 1303.1,924.4 1311.5,930.7 1319.9,940.0 M1305.2,926.5 1298.9,940.0 M1361.9,911.8 1343.0,912.9 1343.0,920.2 1347.2,920.2 1342.0,924.4 1345.1,940.0 M1287.3,872.9 1290.5,869.8 M1248.4,866.6 1252.6,861.4 M1242.1,846.6 1246.3,848.7 M1823.3,585.1 1831.7,589.3 1842.3,591.4 1859.1,594.6 M1775.0,598.8 1791.8,599.8 1787.6,608.2 1787.6,618.7 1781.3,619.8 1786.6,627.2 1783.4,635.6 1783.4,642.9 M1852.8,505.2 1863.3,513.6 1871.7,516.8 1880.1,522.0 1893.8,528.3 1888.5,541.0 1881.1,549.4 1878.0,555.7 1884.3,559.9 1883.3,568.3 1888.5,578.8 1890.6,580.9 M1861.2,501.0 1871.7,500.0 1875.9,507.3 1880.1,517.8 1880.1,522.0 M1884.3,480.0 1886.4,490.5 1875.9,497.9 1875.9,507.3 M1883.3,549.4 1892.7,542.0 1905.3,543.1 1909.5,547.3 1901.1,553.6 1892.7,554.6 1884.3,558.8 M1905.3,543.1 1924.2,541.0 1934.8,532.6 1941.1,530.5 M1922.1,517.8 1928.4,509.4 1941.1,505.2 M1941.1,517.8 1930.6,515.7 1922.1,517.8 1926.3,528.3 1934.8,532.6 M1909.5,547.3 1922.1,547.3 1930.6,553.6 1941.1,554.6 M1930.6,553.6 1932.7,564.1 M1820.2,660.8 1823.3,669.2 1824.4,677.6 1829.6,682.9 1821.2,686.0 1810.7,689.2 1808.6,696.5 1800.2,700.7 1791.8,706.0 1779.2,710.0 M1895.9,644.0 1893.8,654.5 1888.5,669.2 1892.7,677.6 1899.0,686.0 1902.2,700.7 1905.3,710.0 M1917.9,678.7 1914.8,686.0 1907.4,690.2 1904.3,700.7 M1716.1,771.0 1743.5,771.0 1744.5,759.4 1751.9,749.9 1751.9,735.2 1775.0,735.2 1775.0,722.6 1775.0,710.0 M1775.0,724.7 1800.2,743.6 1831.7,766.8 1848.6,777.3 1859.1,782.5 1859.1,787.8 1867.5,786.7 1884.3,779.4 1901.1,766.8 1920.0,754.1 1930.6,758.3 1941.1,759.4 M1789.7,743.6 1800.2,743.6 M1789.7,743.6 1797.1,813.0 1770.8,814.1 1758.2,815.1 1751.9,819.3 M1718.2,807.8 1735.0,806.7 1745.6,813.0 1751.9,819.3 1749.8,825.6 1755.0,836.1 M1717.2,830.9 1726.6,827.7 1737.2,828.8 1738.2,831.9 1717.2,833.6 M1718.2,837.2 1739.3,835.1 1755.0,836.1 1758.2,839.3 1770.8,837.2 1775.0,844.5 1778.1,852.9 1780.2,865.6 1775.0,876.1 1781.3,884.5 1782.3,892.9 M1740.3,836.1 1739.3,841.4 1730.8,844.5 M1743.5,861.4 1751.9,854.0 1759.2,857.2 1761.3,865.6 1754.0,875.0 M1761.3,865.6 1768.7,867.7 1772.9,875.0 1775.0,876.1 M1778.1,852.9 1787.6,849.8 1796.0,848.7 1798.1,840.3 1804.4,836.1 1808.6,829.8 1817.0,824.6 1827.5,819.3 1838.1,819.3 1852.8,815.1 1863.3,814.1 1865.4,802.5 1865.4,787.8 M1798.1,849.8 1806.5,855.0 1816.0,855.0 1814.9,847.7 1833.9,847.7 1842.3,844.5 1852.8,838.2 1848.6,831.9 1838.1,820.4 M1816.0,855.0 1814.9,869.8 1812.8,878.2 1817.0,889.7 M1833.9,847.7 1841.2,857.2 1844.4,869.8 1845.4,881.3 M1842.3,846.6 1846.5,857.2 1849.6,869.8 1850.7,880.3 M1852.8,838.2 1861.2,836.1 1862.2,848.7 1857.0,861.4 1854.9,880.3 M1862.2,836.1 1867.5,828.8 1884.3,827.7 1892.7,831.9 1909.5,830.9 1926.3,829.8 1934.8,827.7 1941.1,821.4 M1905.3,710.0 1905.3,728.9 1901.1,735.2 1907.4,745.7 1920.0,754.1 M1941.1,804.6 1932.7,819.3 1934.8,827.7 M1934.8,827.7 1934.8,842.4 1930.6,855.0 1924.2,867.7 1913.7,876.1 1901.1,882.4 1898.0,892.9 M1905.3,909.7 1941.1,908.7 M1916.9,909.7 1915.8,920.2 1911.6,922.3 M1934.8,911.8 1936.9,920.2 1933.7,928.6 1936.9,940.0" fill="none" stroke="#c1baba" stroke-width="1.9" stroke-linejoin="round"/>
<path d="M1751.9,722.0 1775.0,722.0" fill="none" stroke="#c3bcbc" stroke-width="3.2" stroke-dasharray="7 8"/>
</svg>
<div style="left:1875.80px;top:38.90px;width:49.30px;height:98.10px;background:#fff;box-shadow:0 0 0 1px rgba(0,0,0,0.04),0 1px 3px rgba(0,0,0,0.22);"></div>
<div style="left:1875.80px;top:87.20px;width:49.30px;height:0.80px;background:#ececec;"></div>
<div style="left:1875.80px;top:143.20px;width:49.30px;height:49.10px;background:#fff;box-shadow:0 0 0 1px rgba(0,0,0,0.04),0 1px 3px rgba(0,0,0,0.22);"></div>
<div style="left:1875.80px;top:198.50px;width:49.30px;height:48.90px;background:#fff;box-shadow:0 0 0 1px rgba(0,0,0,0.04),0 1px 3px rgba(0,0,0,0.22);"></div>
<div style="left:1891.00px;top:62.60px;width:19.30px;height:2.30px;background:#7b838a;"></div>
<div style="left:1899.50px;top:54.10px;width:2.30px;height:19.30px;background:#7b838a;"></div>
<div style="left:1891.00px;top:111.10px;width:19.30px;height:2.30px;background:#7b838a;"></div>
<svg style="left:1875.8px;top:143.2px" width="49.3" height="49.1" viewBox="1875.8 143.2 49.3 49.1"><path d="M1896 161.8 H1905.4 L1908.5 174.3 H1892 Z" fill="#7b838a"/></svg>
<svg style="left:1875.8px;top:198.5px" width="49.3" height="48.9" viewBox="1875.8 198.5 49.3 48.9"><path d="M1901.1 212.3 L1907.4 223 L1901.1 233.3 L1894.9 223 Z" fill="#7b838a" stroke="#7b838a" stroke-width="1" stroke-linejoin="round"/><path d="M1901.1 217.2 L1903.6 222.2 H1898.6 Z" fill="#fff"/></svg>
<span style="left:1696.50px;top:905px;font-size:13.5px;line-height:40px;color:#000;transform:scaleX(1.0246);transform-origin:0 0;font-family:'Liberation Serif',serif;text-shadow:0 0 1px #fff,0 0 2px #fff,0 0 2px #fff,0 0 3px #fff;">©2026 TomTom</span>
<span style="left:1795.00px;top:905px;font-size:13.5px;line-height:40px;color:#000;transform:scaleX(1.0044);transform-origin:0 0;font-family:'Liberation Serif',serif;text-shadow:0 0 1px #fff,0 0 2px #fff,0 0 2px #fff,0 0 3px #fff;">©2026 OSM</span>
<span style="left:1871.90px;top:905px;font-size:13.5px;line-height:40px;color:#000;transform:scaleX(1.0246);transform-origin:0 0;font-family:'Liberation Serif',serif;text-shadow:0 0 1px #fff,0 0 2px #fff,0 0 2px #fff,0 0 3px #fff;">Feedback</span>
<div style="left:1871.90px;top:933.20px;width:53.00px;height:1.10px;background:#000;"></div>
<div style="left:1328.00px;top:956.70px;width:14.80px;height:14.80px;background:#ff9a9a;border-radius:50%;"></div>
<span style="left:1347.20px;top:944px;font-size:20.5px;line-height:40px;color:#605e5c;transform:scaleX(0.9566);transform-origin:0 0;">Basseng - ute</span>
<div style="left:1478.20px;top:956.70px;width:14.80px;height:14.80px;background:#ff0000;border-radius:50%;"></div>
<span style="left:1497.20px;top:944px;font-size:20.5px;line-height:40px;color:#605e5c;transform:scaleX(0.9534);transform-origin:0 0;">Basseng innendørs</span>
<div style="left:1676.20px;top:956.70px;width:14.80px;height:14.80px;background:#0f47a1;border-radius:50%;"></div>
<span style="left:1695.20px;top:944px;font-size:20.5px;line-height:40px;color:#605e5c;transform:scaleX(0.8638);transform-origin:0 0;">Elv</span>
<div style="left:1729.60px;top:956.70px;width:14.80px;height:14.80px;background:#02004f;border-radius:50%;"></div>
<span style="left:1747.60px;top:944px;font-size:20.5px;line-height:40px;color:#605e5c;transform:scaleX(0.8878);transform-origin:0 0;">Sjø</span>
<div style="left:1784.60px;top:956.70px;width:14.80px;height:14.80px;background:#9fb2da;border-radius:50%;"></div>
<span style="left:1802.80px;top:944px;font-size:20.5px;line-height:40px;color:#605e5c;transform:scaleX(0.9751);transform-origin:0 0;">Vann</span>
</body></html>
